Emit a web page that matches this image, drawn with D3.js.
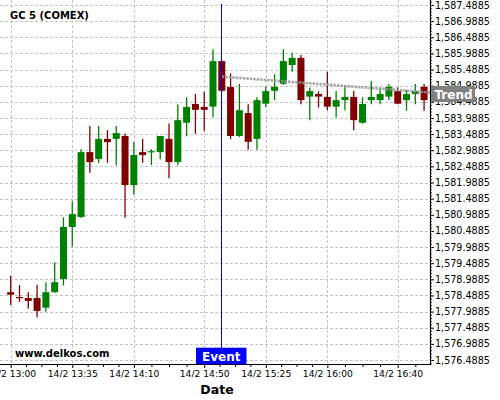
<!DOCTYPE html>
<html>
<head>
<meta charset="utf-8">
<script src="https://cdn.jsdelivr.net/npm/d3@7"></script>
<style>
  html, body { margin: 0; padding: 0; background: #fff; }
  svg { display: block; font-family: "DejaVu Sans", sans-serif; }
</style>
</head>
<body>
<svg id="chart" width="500" height="400"></svg>
<script>
// ---------- data ----------
const title = "GC 5 (COMEX)";
const times = ["13:00","13:05","13:10","13:15","13:20","13:25","13:30","13:35","13:40","13:45","13:50","13:55",
               "14:00","14:05","14:10","14:15","14:20","14:25","14:30","14:35","14:40","14:45","14:50","14:55",
               "15:00","15:05","15:10","15:15","15:20","15:25","15:30","15:35","15:40","15:45","15:50","15:55",
               "16:00","16:05","16:10","16:15","16:20","16:25","16:30","16:35","16:40","16:45","16:50","16:55"];
const open  = [1578.59,1578.44,1578.41,1578.41,1578.11,1578.59,1579.00,1580.61,1580.92,1582.93,1582.72,1583.34,
               1583.34,1583.43,1581.91,1582.93,1582.94,1582.93,1583.34,1582.62,1583.84,1584.42,1584.33,1584.34,
               1585.75,1584.95,1583.43,1584.14,1583.34,1584.43,1584.83,1585.05,1585.63,1585.85,1584.65,1584.73,
               1584.64,1584.34,1584.54,1584.64,1583.84,1584.54,1584.54,1584.65,1584.82,1584.54,1584.73,1584.95];
const close = [1578.51,1578.41,1578.32,1578.01,1578.59,1578.90,1580.61,1581.01,1582.93,1582.62,1583.34,1583.24,
               1583.52,1581.91,1582.84,1582.84,1582.96,1583.43,1582.62,1583.92,1584.33,1584.24,1584.24,1585.75,
               1584.83,1583.43,1584.23,1583.25,1584.54,1584.82,1584.95,1585.75,1585.85,1584.54,1584.82,1584.65,
               1584.34,1584.54,1584.64,1583.92,1584.42,1584.64,1584.73,1584.95,1584.43,1584.73,1584.82,1584.54];
const high  = [1579.10,1578.81,1578.59,1578.82,1578.90,1579.52,1580.91,1581.41,1583.02,1583.74,1583.74,1583.61,
               1583.74,1583.51,1583.24,1583.34,1583.02,1583.43,1583.82,1584.41,1584.63,1584.73,1584.80,1586.12,
               1585.78,1585.37,1585.04,1584.41,1584.63,1584.96,1585.34,1586.12,1586.02,1585.94,1584.93,1584.81,
               1585.42,1584.82,1584.95,1584.82,1584.63,1585.13,1584.93,1585.04,1584.93,1584.85,1585.04,1585.04];
const low   = [1578.19,1578.29,1578.08,1577.81,1577.98,1578.57,1578.80,1580.00,1580.90,1582.29,1582.59,1582.60,
               1582.52,1580.90,1581.61,1582.60,1582.53,1582.71,1582.12,1582.52,1583.42,1583.50,1583.59,1584.01,
               1584.79,1583.33,1583.40,1583.00,1583.00,1584.33,1584.54,1585.01,1585.42,1584.41,1583.92,1584.31,
               1584.23,1584.00,1584.23,1583.61,1583.81,1584.41,1584.41,1584.54,1584.41,1584.21,1584.41,1584.21];

const xTickTimes = ["13:00","13:35","14:10","14:50","15:25","16:00","16:40"];
const xTickPrefix = "14/2 ";
const yTicks = [1576.4885,1576.9885,1577.4885,1577.9885,1578.4885,1578.9885,1579.4885,1579.9885,
                1580.4885,1580.9885,1581.4885,1581.9885,1582.4885,1582.9885,1583.4885,1583.9885,
                1584.4885,1584.9885,1585.4885,1585.9885,1586.4885,1586.9885,1587.4885];
const eventTime = "15:00";
const eventLabel = "Event";
const trendTimes = ["15:00","17:00"];
const trendValues = [1585.27, 1584.77];
const trendLabel = "Trend";
const xAxisTitle = "Date";
const watermark = "www.delkos.com";

// ---------- layout ----------
const plotW = 430, plotH = 364;
const parse = d3.timeParse("%H:%M");
const svg = d3.select("#chart");

const x = d3.scaleTime()
  .domain([parse("13:00"), parse("16:40")])
  .range([10.7, 397.7]);
const y = d3.scaleLinear()
  .domain([1576.4885, 1587.4885])
  .range([360, 5]);

svg.append("rect").attr("width", 500).attr("height", 400).attr("fill", "#fff");

svg.append("defs").append("clipPath").attr("id", "plotclip")
  .append("rect").attr("x", 0).attr("y", 0).attr("width", plotW).attr("height", plotH);

const gridColor = "#c4c4c4";
const xTicks = xTickTimes.map(parse);

// grid
const grid = svg.append("g");
grid.selectAll(".hg").data(yTicks).join("line")
  .attr("x1", 0).attr("x2", plotW)
  .attr("y1", d => Math.round(y(d)) + 0.5).attr("y2", d => Math.round(y(d)) + 0.5)
  .attr("stroke", gridColor).attr("stroke-dasharray", "3,2");
grid.selectAll(".vg").data(xTicks).join("line")
  .attr("y1", 0).attr("y2", plotH)
  .attr("x1", d => Math.round(x(d)) + 0.5).attr("x2", d => Math.round(x(d)) + 0.5)
  .attr("stroke", gridColor).attr("stroke-dasharray", "3,2");

// candles
const up = "#008000", down = "#800000";
const candles = times.map((t, i) => ({ t: parse(t), o: open[i], c: close[i], h: high[i], l: low[i] }));
const cg = svg.append("g").attr("clip-path", "url(#plotclip)");
const cw = 7;
cg.selectAll(".wick").data(candles).join("line")
  .attr("x1", d => x(d.t)).attr("x2", d => x(d.t))
  .attr("y1", d => y(d.h)).attr("y2", d => y(d.l))
  .attr("stroke", d => d.c >= d.o ? up : down).attr("stroke-width", 1.3);
cg.selectAll(".body").data(candles).join("rect")
  .attr("x", d => x(d.t) - cw / 2)
  .attr("width", cw)
  .attr("y", d => y(Math.max(d.o, d.c)))
  .attr("height", d => Math.max(1.2, Math.abs(y(d.o) - y(d.c))))
  .attr("fill", d => d.c >= d.o ? up : down);

// trend line
const trendLine = d3.line().x(d => x(d[0])).y(d => y(d[1]));
cg.append("path")
  .datum(trendTimes.map((t, i) => [parse(t), trendValues[i]]))
  .attr("d", trendLine)
  .attr("fill", "none").attr("stroke", "#969696").attr("stroke-width", 2.6)
  .attr("stroke-dasharray", "2.5,1").attr("opacity", 0.85);

// event line
const xe = Math.round(x(parse(eventTime))) - 0.5;
svg.append("line").attr("x1", xe).attr("x2", xe).attr("y1", 4).attr("y2", 348)
  .attr("stroke", "#0000ff").attr("stroke-width", 1);

// y axis (right)
const yAxis = d3.axisRight(y).tickValues(yTicks).tickFormat(d3.format(",.4f")).tickSize(4).tickPadding(1);
const ya = svg.append("g").attr("transform", `translate(${plotW},0)`).call(yAxis);
ya.select(".domain").remove();
ya.selectAll("text").attr("font-size", "9.6px").attr("font-family", "DejaVu Sans").attr("fill", "#000");
const yMinor = d3.range(-1, 112).map(k => 1576.4885 + k * 0.1).filter(v => y(v) >= 0 && y(v) <= plotH);
const yma = svg.append("g").attr("transform", `translate(${plotW},0)`)
  .call(d3.axisRight(y).tickValues(yMinor).tickFormat("").tickSize(2));
yma.select(".domain").remove();
yma.selectAll("line").attr("stroke", "#555");

// x axis
const fmt = d3.timeFormat("%H:%M");
const xAxis = d3.axisBottom(x).tickValues(xTicks).tickFormat(d => xTickPrefix + fmt(d)).tickSize(4).tickPadding(2);
const xa = svg.append("g").attr("transform", `translate(0,${plotH})`).call(xAxis);
xa.select(".domain").remove();
xa.selectAll("text").attr("font-size", "9.2px").attr("font-family", "DejaVu Sans").attr("fill", "#000");
const xMinor = [];
for (let i = 0; i < xTicks.length - 1; i++) {
  const a = +xTicks[i], b = +xTicks[i + 1];
  for (let k = 1; k < 4; k++) xMinor.push(new Date(a + (b - a) * k / 4));
}
const last = +xTicks[xTicks.length - 1];
[1, 2].forEach(k => { const d = new Date(last + k * 10 * 60000); if (x(d) <= plotW) xMinor.push(d); });
const xma = svg.append("g").attr("transform", `translate(0,${plotH})`)
  .call(d3.axisBottom(x).tickValues(xMinor).tickFormat("").tickSize(3));
xma.select(".domain").remove();

// axis lines
svg.append("line").attr("x1", plotW + 0.5).attr("x2", plotW + 0.5).attr("y1", 0).attr("y2", plotH + 1)
  .attr("stroke", "#000").attr("stroke-width", 1.2);
svg.append("line").attr("x1", 0).attr("x2", plotW + 1).attr("y1", plotH + 0.5).attr("y2", plotH + 0.5)
  .attr("stroke", "#000").attr("stroke-width", 1.2);

// trend label
const yTrendEnd = y(trendValues[0] + (trendValues[1] - trendValues[0]) * ((+x.invert(plotW) - +parse(trendTimes[0])) / (+parse(trendTimes[1]) - +parse(trendTimes[0]))));
svg.append("rect").attr("x", 431).attr("y", yTrendEnd - 6.5).attr("width", 44).attr("height", 16).attr("fill", "#808080");
svg.append("text").attr("x", 453.5).attr("y", yTrendEnd + 6.3).attr("text-anchor", "middle")
  .attr("font-size", "12px").attr("font-weight", "bold").attr("fill", "#fff").text(trendLabel);

// event label
svg.append("rect").attr("x", xe - 25.5).attr("y", 347.7).attr("width", 50.5).attr("height", 16.5).attr("fill", "#0000ff");
svg.append("text").attr("x", xe - 0.3).attr("y", 360.6).attr("text-anchor", "middle")
  .attr("font-size", "12px").attr("font-weight", "bold").attr("fill", "#fff").text(eventLabel);

// texts
svg.append("text").attr("x", 10).attr("y", 19).attr("font-size", "10px").attr("font-weight", "bold").text(title);
svg.append("text").attr("x", 15).attr("y", 357).attr("font-size", "10px").attr("font-weight", "bold").text(watermark);
svg.append("text").attr("x", 217).attr("y", 394).attr("text-anchor", "middle")
  .attr("font-size", "12.5px").attr("font-weight", "bold").text(xAxisTitle);
</script>
</body>
</html>
